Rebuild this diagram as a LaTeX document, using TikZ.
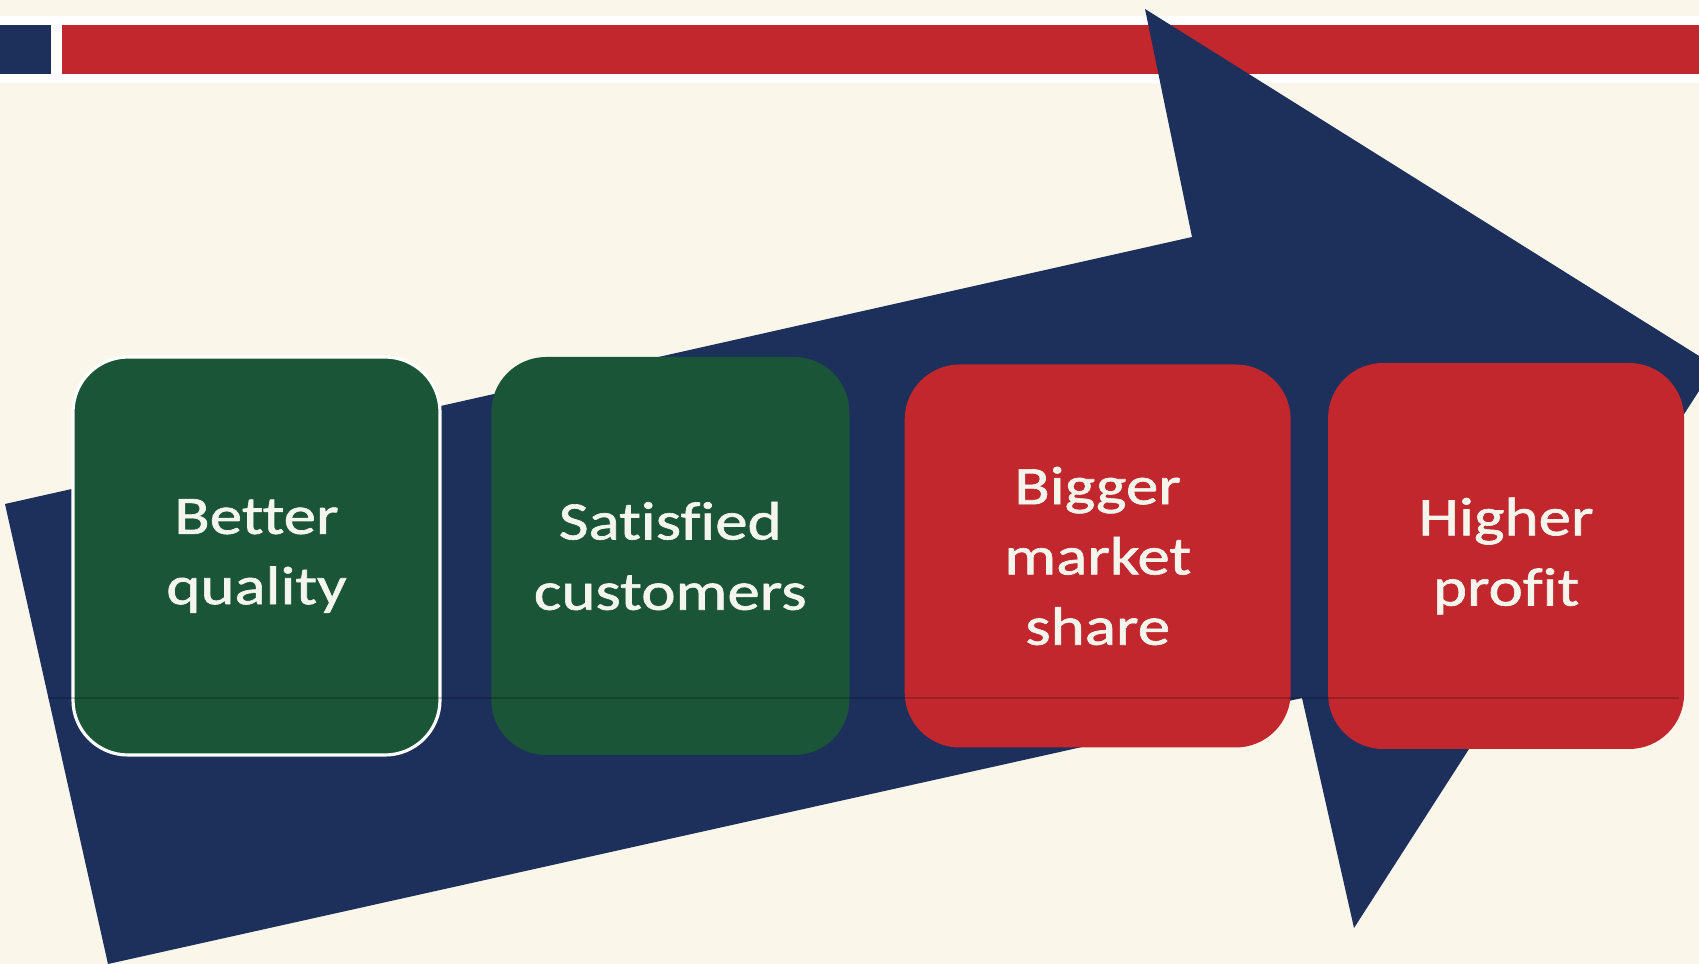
\documentclass[tikz,border=0pt]{standalone}
\usepackage{fontspec}
\usepackage{tikz}
\usetikzlibrary{positioning}
\newfontfamily\boxfont[FakeStretch=1.2, FakeBold=1.2, Ligatures=NoCommon]{Carlito}
\definecolor{navy}{HTML}{1D305B}
\definecolor{slidered}{HTML}{C1272D}
\definecolor{slidegreen}{HTML}{1B5537}
\definecolor{cream}{HTML}{FAF6EA}
\definecolor{chalk}{HTML}{F4F6EE}

\begin{document}
\begin{tikzpicture}[x=0.1mm, y=-0.1mm,
        stage/.style={rounded corners=5.5mm, inner sep=0pt, align=center, text=chalk,
            font=\boxfont\fontsize{15.4}{20}\selectfont},
        good/.style={stage, fill=slidegreen},
        win/.style={stage, fill=slidered}
    ]
        \useasboundingbox (0,0) rectangle (1699,964);
        \clip (0,0) rectangle (1699,964);

        % Background and title bar
        \fill[cream] (0,0) rectangle (1699,964);
        \fill[white] (0,16) rectangle (1699,83);
        \fill[navy] (0,25) rectangle (51,74);
        \fill[slidered] (62,25) rectangle (1699,74);

        % Big arrow
        \fill[navy] (5,504) -- (1192,237) -- (1145,9) -- (1715,366)
            -- (1354,928) -- (1302,698) -- (108,964) -- cycle;

        % Nodes
        \node[good, draw=white, line width=0.9pt, minimum width=36.7mm, minimum height=39.8mm]
            (quality) at (256.5,556) {Better\\quality};
        \node[good, minimum width=35.8mm, minimum height=39.8mm, right=4.9mm of quality]
            (customers) {Satisfied\\customers};
        \node[win, minimum width=38.6mm, minimum height=38.3mm, right=5.4mm of customers]
            (share) {Bigger\\market\\share};
        \node[win, minimum width=35.6mm, minimum height=38.6mm, right=3.6mm of share]
            (profit) {Higher\\profit};

        % thin seam across the picture
        \draw[black, opacity=0.2, line width=0.3pt] (48,698) -- (1679,698);
    \end{tikzpicture}
\end{document}
